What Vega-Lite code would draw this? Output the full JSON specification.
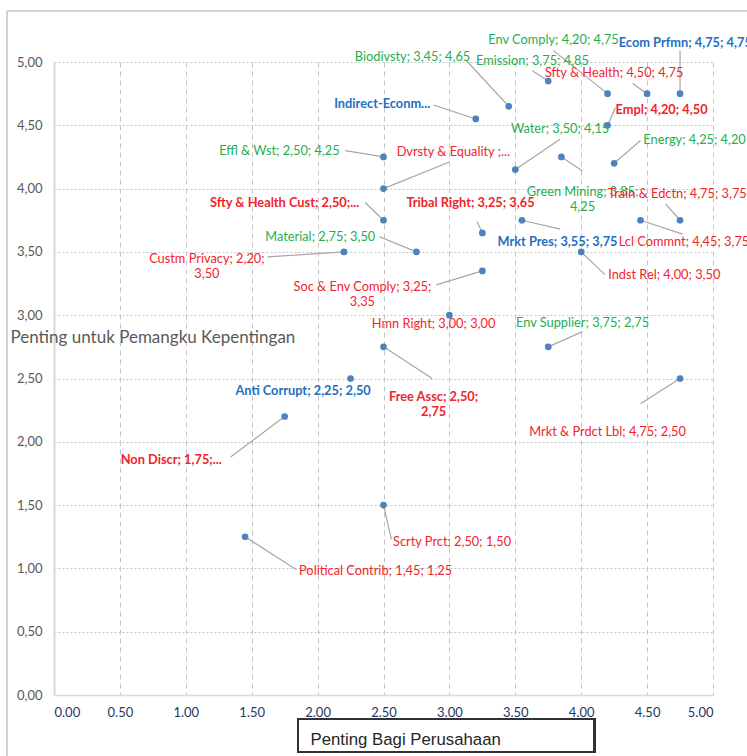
{
  "$schema": "https://vega.github.io/schema/vega-lite/v6.json",
  "autosize": {"type": "none"},
  "width": 659,
  "height": 633,
  "padding": {"left": 54, "top": 62, "right": 34, "bottom": 61},
  "background": "white",
  "data": {
    "values": [
      {"label": "Ecom Prfmn; 4,75; 4,75", "x": 4.75, "y": 4.75, "lx": 4.79, "ly": 5.15, "ex": 4.75, "ey": 5.09, "group": "Ekonomi", "fokus": true},
      {"label": "Env Comply; 4,20; 4,75", "x": 4.20, "y": 4.75, "lx": 3.79, "ly": 5.17, "ex": 3.79, "ey": 5.09, "group": "Lingkungan", "fokus": false},
      {"label": "Biodivsty; 3,45; 4,65", "x": 3.45, "y": 4.65, "lx": 2.72, "ly": 5.04, "ex": 3.13, "ey": 5.01, "group": "Lingkungan", "fokus": false},
      {"label": "Emission; 3,75; 4,85", "x": 3.75, "y": 4.85, "lx": 3.63, "ly": 5.01, "ex": 3.63, "ey": 4.93, "group": "Lingkungan", "fokus": false},
      {"label": "Sfty & Health; 4,50; 4,75", "x": 4.50, "y": 4.75, "lx": 4.25, "ly": 4.91, "ex": 4.39, "ey": 4.83, "group": "Sosial", "fokus": false},
      {"label": "Indirect-Econm...", "x": 3.20, "y": 4.55, "lx": 2.49, "ly": 4.67, "ex": 2.88, "ey": 4.66, "group": "Ekonomi", "fokus": true},
      {"label": "Empl; 4,20; 4,50", "x": 4.20, "y": 4.50, "lx": 4.61, "ly": 4.62, "ex": 4.26, "ey": 4.64, "group": "Sosial", "fokus": true},
      {"label": "Water; 3,50; 4,15", "x": 3.50, "y": 4.15, "lx": 3.84, "ly": 4.47, "ex": 3.84, "ey": 4.39, "group": "Lingkungan", "fokus": false},
      {"label": "Energy; 4,25; 4,20", "x": 4.25, "y": 4.20, "lx": 4.86, "ly": 4.38, "ex": 4.45, "ey": 4.38, "group": "Lingkungan", "fokus": false},
      {"label": "Dvrsty & Equality ;...", "x": 2.50, "y": 4.00, "lx": 3.03, "ly": 4.29, "ex": 3.00, "ey": 4.21, "group": "Sosial", "fokus": false},
      {"label": "Effl & Wst; 2,50; 4,25", "x": 2.50, "y": 4.25, "lx": 1.71, "ly": 4.30, "ex": 2.21, "ey": 4.30, "group": "Lingkungan", "fokus": false},
      {"label": "Green Mining; 3,85;\n4,25", "x": 3.85, "y": 4.25, "lx": 4.01, "ly": 3.97, "ex": 4.01, "ey": 4.14, "group": "Lingkungan", "fokus": false},
      {"label": "Train & Edctn; 4,75; 3,75", "x": 4.75, "y": 3.75, "lx": 4.73, "ly": 3.96, "ex": 4.64, "ey": 3.88, "group": "Sosial", "fokus": false},
      {"label": "Sfty & Health Cust; 2,50;...", "x": 2.50, "y": 3.75, "lx": 1.75, "ly": 3.89, "ex": 2.36, "ey": 3.89, "group": "Sosial", "fokus": true},
      {"label": "Tribal Right; 3,25; 3,65", "x": 3.25, "y": 3.65, "lx": 3.16, "ly": 3.89, "ex": 3.21, "ey": 3.74, "group": "Sosial", "fokus": true},
      {"label": "Mrkt Pres; 3,55; 3,75", "x": 3.55, "y": 3.75, "lx": 3.82, "ly": 3.58, "ex": 3.84, "ey": 3.68, "group": "Ekonomi", "fokus": true},
      {"label": "Lcl Commnt; 4,45; 3,75", "x": 4.45, "y": 3.75, "lx": 4.78, "ly": 3.58, "ex": 4.77, "ey": 3.64, "group": "Sosial", "fokus": false},
      {"label": "Material; 2,75; 3,50", "x": 2.75, "y": 3.50, "lx": 2.02, "ly": 3.62, "ex": 2.47, "ey": 3.62, "group": "Lingkungan", "fokus": false},
      {"label": "Custm Privacy; 2,20;\n3,50", "x": 2.20, "y": 3.50, "lx": 1.16, "ly": 3.44, "ex": 1.62, "ey": 3.46, "group": "Sosial", "fokus": false},
      {"label": "Indst Rel; 4,00; 3,50", "x": 4.00, "y": 3.50, "lx": 4.63, "ly": 3.32, "ex": 4.18, "ey": 3.32, "group": "Sosial", "fokus": false},
      {"label": "Soc & Env Comply; 3,25;\n3,35", "x": 3.25, "y": 3.35, "lx": 2.34, "ly": 3.22, "ex": 2.90, "ey": 3.24, "group": "Sosial", "fokus": false},
      {"label": "Hmn Right; 3,00; 3,00", "x": 3.00, "y": 3.00, "lx": 2.88, "ly": 2.93, "ex": null, "ey": null, "group": "Sosial", "fokus": false},
      {"label": "Env Supplier; 3,75; 2,75", "x": 3.75, "y": 2.75, "lx": 4.01, "ly": 2.94, "ex": 4.01, "ey": 2.87, "group": "Lingkungan", "fokus": false},
      {"label": "Free Assc; 2,50;\n2,75", "x": 2.50, "y": 2.75, "lx": 2.88, "ly": 2.35, "ex": 2.87, "ey": 2.50, "group": "Sosial", "fokus": true},
      {"label": "Anti Corrupt; 2,25; 2,50", "x": 2.25, "y": 2.50, "lx": 1.89, "ly": 2.40, "ex": null, "ey": null, "group": "Ekonomi", "fokus": true},
      {"label": "Mrkt & Prdct Lbl; 4,75; 2,50", "x": 4.75, "y": 2.50, "lx": 4.20, "ly": 2.08, "ex": 4.45, "ey": 2.30, "group": "Sosial", "fokus": false},
      {"label": "Non Discr; 1,75;...", "x": 1.75, "y": 2.20, "lx": 0.89, "ly": 1.86, "ex": 1.34, "ey": 1.88, "group": "Sosial", "fokus": true},
      {"label": "Scrty Prct; 2,50; 1,50", "x": 2.50, "y": 1.50, "lx": 3.02, "ly": 1.21, "ex": 2.56, "ey": 1.23, "group": "Sosial", "fokus": false},
      {"label": "Political Contrib; 1,45; 1,25", "x": 1.45, "y": 1.25, "lx": 2.44, "ly": 0.98, "ex": 1.84, "ey": 0.99, "group": "Sosial", "fokus": false}
    ]
  },
  "layer": [
    {
      "mark": {"type": "rect", "fillOpacity": 0, "stroke": "#d0d0d0", "strokeWidth": 1, "clip": false},
      "encoding": {
        "x": {"datum": -0.357, "type": "quantitative", "title": "Penting Bagi Perusahaan"},
        "x2": {"datum": 5.5},
        "y": {"datum": 5.4, "type": "quantitative", "title": "Penting untuk Pemangku Kepentingan"},
        "y2": {"datum": -0.7}
      }
    },
    {
      "mark": {"type": "rect", "fillOpacity": 0, "stroke": "#333333", "strokeWidth": 1.5, "clip": false},
      "encoding": {
        "x": {"datum": 1.85, "type": "quantitative", "title": "Penting Bagi Perusahaan"},
        "x2": {"datum": 4.10},
        "y": {"datum": -0.19, "type": "quantitative", "title": "Penting untuk Pemangku Kepentingan"},
        "y2": {"datum": -0.45}
      }
    },
    {
      "transform": [{"filter": "isValid(datum.ex)"}],
      "mark": {"type": "rule", "color": "#a6a6a6", "strokeWidth": 1.2},
      "encoding": {
        "x": {"field": "x", "type": "quantitative", "title": "Penting Bagi Perusahaan"},
        "y": {"field": "y", "type": "quantitative", "title": "Penting untuk Pemangku Kepentingan"},
        "x2": {"field": "ex", "title": "Penting Bagi Perusahaan"},
        "y2": {"field": "ey", "title": "Penting untuk Pemangku Kepentingan"}
      }
    },
    {
      "mark": {"type": "circle", "size": 45, "opacity": 1, "color": "#4f81bd"},
      "encoding": {
        "x": {
          "field": "x", "type": "quantitative", "title": "Penting Bagi Perusahaan",
          "scale": {"domain": [0, 5], "nice": false, "zero": false},
          "axis": {
            "values": [0, 0.5, 1, 1.5, 2, 2.5, 3, 3.5, 4, 4.5, 5],
            "format": ".2f",
            "grid": true,
            "gridColor": "#c4c4c4",
            "gridDash": [5, 4],
            "gridWidth": 1,
            "domainColor": "#d9d9d9",
            "domainWidth": 1.5,
            "ticks": false,
            "labelFont": "Lato",
            "labelFontSize": 13,
            "labelColor": "#1f3864",
            "labelPadding": 11,
            "titleFont": "Liberation Sans",
            "titleFontSize": 16.8,
            "titleFontWeight": "normal",
            "titleColor": "#262626",
            "titleAlign": "left",
            "titleAnchor": "start",
            "titleX": 256,
            "titleY": 44,
            "titleBaseline": "middle"
          }
        },
        "y": {
          "field": "y", "type": "quantitative", "title": "Penting untuk Pemangku Kepentingan",
          "scale": {"domain": [0, 5], "nice": false, "zero": false},
          "axis": {
            "values": [0, 0.5, 1, 1.5, 2, 2.5, 3, 3.5, 4, 4.5, 5],
            "labelExpr": "replace(format(datum.value, '.2f'), '.', ',')",
            "grid": true,
            "gridColor": "#c4c4c4",
            "gridDash": [2, 2],
            "gridWidth": 1,
            "domainColor": "#d9d9d9",
            "domainWidth": 2,
            "ticks": false,
            "labelFont": "Lato",
            "labelFontSize": 13,
            "labelColor": "#595959",
            "labelPadding": 12,
            "titleFont": "Lato",
            "titleFontSize": 17,
            "titleFontWeight": "normal",
            "titleColor": "#595959",
            "titleAngle": 0,
            "titleAlign": "left",
            "titleAnchor": "start",
            "titleX": -44,
            "titleY": 275,
            "titleBaseline": "middle"
          }
        }
      }
    },
    {
      "transform": [{"filter": "!datum.fokus"}],
      "mark": {"type": "text", "font": "Lato", "fontSize": 12.8, "align": "center", "baseline": "middle", "lineBreak": "\n", "lineHeight": 15},
      "encoding": {
        "x": {"field": "lx", "type": "quantitative", "title": "Penting Bagi Perusahaan"},
        "y": {"field": "ly", "type": "quantitative", "title": "Penting untuk Pemangku Kepentingan"},
        "text": {"field": "label"},
        "color": {"field": "group", "type": "nominal", "scale": {"domain": ["Ekonomi", "Lingkungan", "Sosial"], "range": ["#1f6fbf", "#1fae50", "#f0242b"]}, "legend": null}
      }
    },
    {
      "transform": [{"filter": "datum.fokus"}],
      "mark": {"type": "text", "font": "Lato", "fontSize": 12.8, "fontWeight": "bold", "align": "center", "baseline": "middle", "lineBreak": "\n", "lineHeight": 15},
      "encoding": {
        "x": {"field": "lx", "type": "quantitative", "title": "Penting Bagi Perusahaan"},
        "y": {"field": "ly", "type": "quantitative", "title": "Penting untuk Pemangku Kepentingan"},
        "text": {"field": "label"},
        "color": {"field": "group", "type": "nominal", "legend": null}
      }
    }
  ],
  "config": {
    "view": {"stroke": null}
  }
}
